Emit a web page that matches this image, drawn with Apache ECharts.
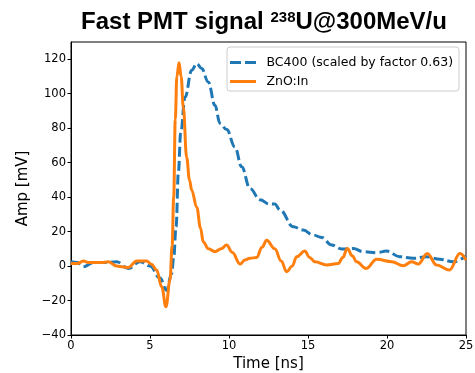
<!DOCTYPE html>
<html><head><meta charset="utf-8">
<script src="https://cdn.jsdelivr.net/npm/echarts@6/dist/echarts.min.js"></script>
<style>html,body{margin:0;padding:0;background:#fff}#c{width:475px;height:373px}</style>
</head><body><div id="c"></div>
<script>
const bcTime = [0,0.4,0.78,1.41,2.1,2.89,3.63,4.37,5,5.63,6.05,6.37,6.5,6.65,6.8,6.94,7.22,7.64,7.96,8.27,8.69,9.11,9.43,9.85,10.38,10.8,11.33,11.96,12.55,12.9,13.23,14.07,14.7,15.33,15.87,16.5,17.13,17.87,18.5,19.35,19.98,20.8,21.66,22.5,23.35,24.2,25];
const bcAmp  = [2.5,2,-0.4,2,2,2.5,-1.4,2.5,0,-7,-14,-4.3,5,22.8,55,77,98,113.6,117.5,114.6,106.8,93.3,82.7,79.2,69,57.6,45,38.5,36,36,32.5,22.8,20.9,18,16.6,12.2,9.9,10.2,8.3,7.7,8.7,5.4,4.5,5.4,3.9,2.5,5.8];
const znTime = [0,0.4,0.78,1.1,1.41,1.9,2.36,2.89,3.3,3.63,4.16,4.5,4.79,5.1,5.42,5.74,6.01,6.27,6.4,6.5,6.6,6.7,6.84,6.97,7.11,7.32,7.5,7.64,7.96,8.2,8.37,8.7,9.11,9.5,9.85,10.2,10.7,11.0,11.33,11.75,12.1,12.38,12.9,13.3,13.65,14.0,14.28,14.8,15.1,15.44,16.18,16.92,17.2,17.49,17.8,18.08,18.67,19.35,20.3,21.03,21.56,21.98,22.55,23.14,23.95,24.62,25];
const znAmp  = [1.5,1.5,3,2,2,2,2.5,0,-0.5,-0.8,3,3,3,1,-2.3,-12,-23.6,-8,12,40,85,110,118,110,92,63,50,44,34,22,14,10,8.3,10,12.2,8,1.2,3.5,4.5,5,11,15,10,3,-3.3,0,5.4,8.7,5,2.5,0.6,1.5,5,10.2,6,2.5,-1.4,3.9,2.5,0.2,2.5,1.2,7.3,0.6,-2.3,7.3,3.5];
const xTicks = [0,5,10,15,20,25];
const yTicks = [-40,-20,0,20,40,60,80,100,120];
const seriesNames = ['BC400 (scaled by factor 0.63)','ZnO:In'];

const pair = (t,v)=>t.map((x,i)=>[x,v[i]]);
const font = 'DejaVu Sans';
const chart = echarts.init(document.getElementById('c'), null, {renderer:'canvas'});
chart.setOption({
  animation:false,
  backgroundColor:'#fff',
  title:{
    text:'Fast PMT signal {sup|238}U@300MeV/u',
    left:259, top:5, textAlign:'center',
    textStyle:{fontFamily:'Liberation Sans',fontWeight:'bold',fontSize:24,color:'#000',
      rich:{sup:{fontFamily:'Liberation Sans',fontWeight:'bold',fontSize:15,color:'#000',verticalAlign:'top',padding:[0,0,9,0]}}}
  },
  legend:{
    data:[
      {name:seriesNames[0],icon:'path://M0,0H11V3H0Z M15,0H26V3H15Z'},
      {name:seriesNames[1],icon:'path://M0,0H26V3H0Z'}
    ],
    orient:'vertical', left:227, top:47, width:235,
    padding:[9,6,3,3], itemGap:6, itemWidth:27, itemHeight:3,
    backgroundColor:'rgba(255,255,255,0.8)', borderColor:'#ccc', borderWidth:1, borderRadius:3,
    textStyle:{fontFamily:font,fontSize:12.5,color:'#000',padding:[0,0,0,5],lineHeight:13}
  },
  grid:{left:71,right:9,top:42,bottom:38,show:true,borderColor:'#000',borderWidth:1,outerBoundsMode:'none',containLabel:false},
  xAxis:{
    type:'value', min:0, max:25, interval:5,
    name:'Time [ns]', nameLocation:'middle', nameGap:20,
    nameTextStyle:{fontFamily:font,fontSize:15,color:'#000'},
    axisLine:{show:true,onZero:false,lineStyle:{color:'#000',width:1}},
    axisTick:{show:true,inside:false,length:3.5,lineStyle:{color:'#000'},customValues:xTicks},
    axisLabel:{fontFamily:font,fontSize:11.5,color:'#000',margin:5,customValues:xTicks},
    splitLine:{show:false}
  },
  yAxis:{
    type:'value', min:-40, max:130, interval:20,
    name:'Amp [mV]', nameLocation:'middle', nameGap:37, nameRotate:90,
    nameTextStyle:{fontFamily:font,fontSize:15,color:'#000'},
    axisLine:{show:true,onZero:false,lineStyle:{color:'#000',width:1}},
    axisTick:{show:true,inside:false,length:3.5,lineStyle:{color:'#000'},customValues:yTicks},
    axisLabel:{fontFamily:font,fontSize:11.5,color:'#000',margin:5,customValues:yTicks,
      formatter:v=>v<0?'\u2212'+Math.abs(v):String(v)},
    splitLine:{show:false}
  },
  series:[
    {name:seriesNames[0],type:'line',data:pair(bcTime,bcAmp),showSymbol:false,symbol:'none',
     smooth:0.4,smoothMonotone:'x',z:2,
     lineStyle:{color:'#1f77b4',width:3,type:[10,4]},itemStyle:{color:'#1f77b4'}},
    {name:seriesNames[1],type:'line',data:pair(znTime,znAmp),showSymbol:false,symbol:'none',
     smooth:0.4,smoothMonotone:'x',z:3,
     lineStyle:{color:'#ff7f0e',width:3},itemStyle:{color:'#ff7f0e'}}
  ]
});
</script></body></html>
